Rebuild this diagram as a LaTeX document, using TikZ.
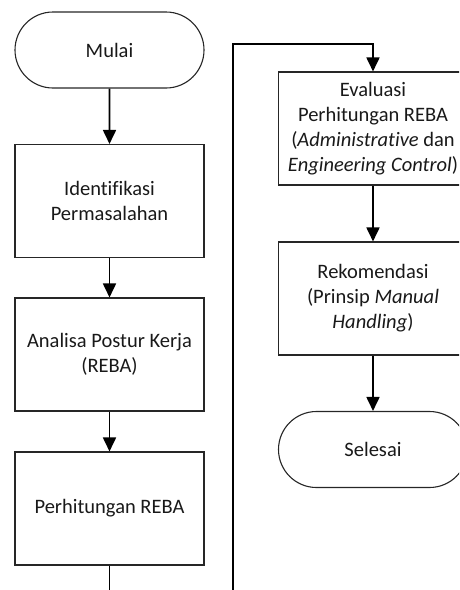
\documentclass[tikz,border=0pt]{standalone}
\usepackage{fontspec}
\setmainfont{Carlito}[Ligatures={NoCommon}]
\usetikzlibrary{shapes.misc,arrows.meta}
\begin{document}
\begin{tikzpicture}[x=1pt,y=-1pt,
  txt/.style={font=\fontsize{20.5}{25}\selectfont, text=black!90},
  procbox/.style={txt, draw=black!85, line width=1.1pt, minimum width=189pt, minimum height=113pt, inner sep=0pt, align=center},
  termbox/.style={txt, draw=black!85, rounded rectangle, line width=1.1pt, minimum width=189pt, minimum height=76pt, inner sep=0pt},
  flow/.style={line width=1.8pt, -{Triangle[width=13pt,length=14pt]}},
  plain/.style={line width=1.8pt}]
\useasboundingbox (0,0) rectangle (459,590);
\clip (0,0) rectangle (459,590);
\node[termbox] (mulai) at (109.5,50) {Mulai};
\node[procbox] (ident) at (109.5,201) {Identifikasi\\Permasalahan};
\node[procbox] (analisa) at (109.5,354.5) {Analisa Postur Kerja\\(REBA)};
\node[procbox] (hitung) at (109.5,508.5) {Perhitungan REBA};
\node[procbox] (eval) at (373,128.5) {Evaluasi\\Perhitungan REBA\\(\textit{Administrative} dan\\\textit{Engineering Control})};
\node[procbox] (rekom) at (373,298.5) {Rekomendasi\\(Prinsip \textit{Manual}\\\textit{Handling})};
\node[termbox] (selesai) at (373,449.5) {Selesai};
\coordinate (botL) at (109.5,595);
\coordinate (botR) at (233,595);
\coordinate (topR) at (233,44);
\draw[flow] (mulai) -- (ident);
\draw[flow] (ident) -- (analisa);
\draw[flow] (analisa) -- (hitung);
\draw[plain] (hitung) -- (botL);
\draw[flow] (botR) -- (topR) -| (eval.north);
\draw[flow] (eval) -- (rekom);
\draw[flow] (rekom) -- (selesai);
\end{tikzpicture}
\end{document}
